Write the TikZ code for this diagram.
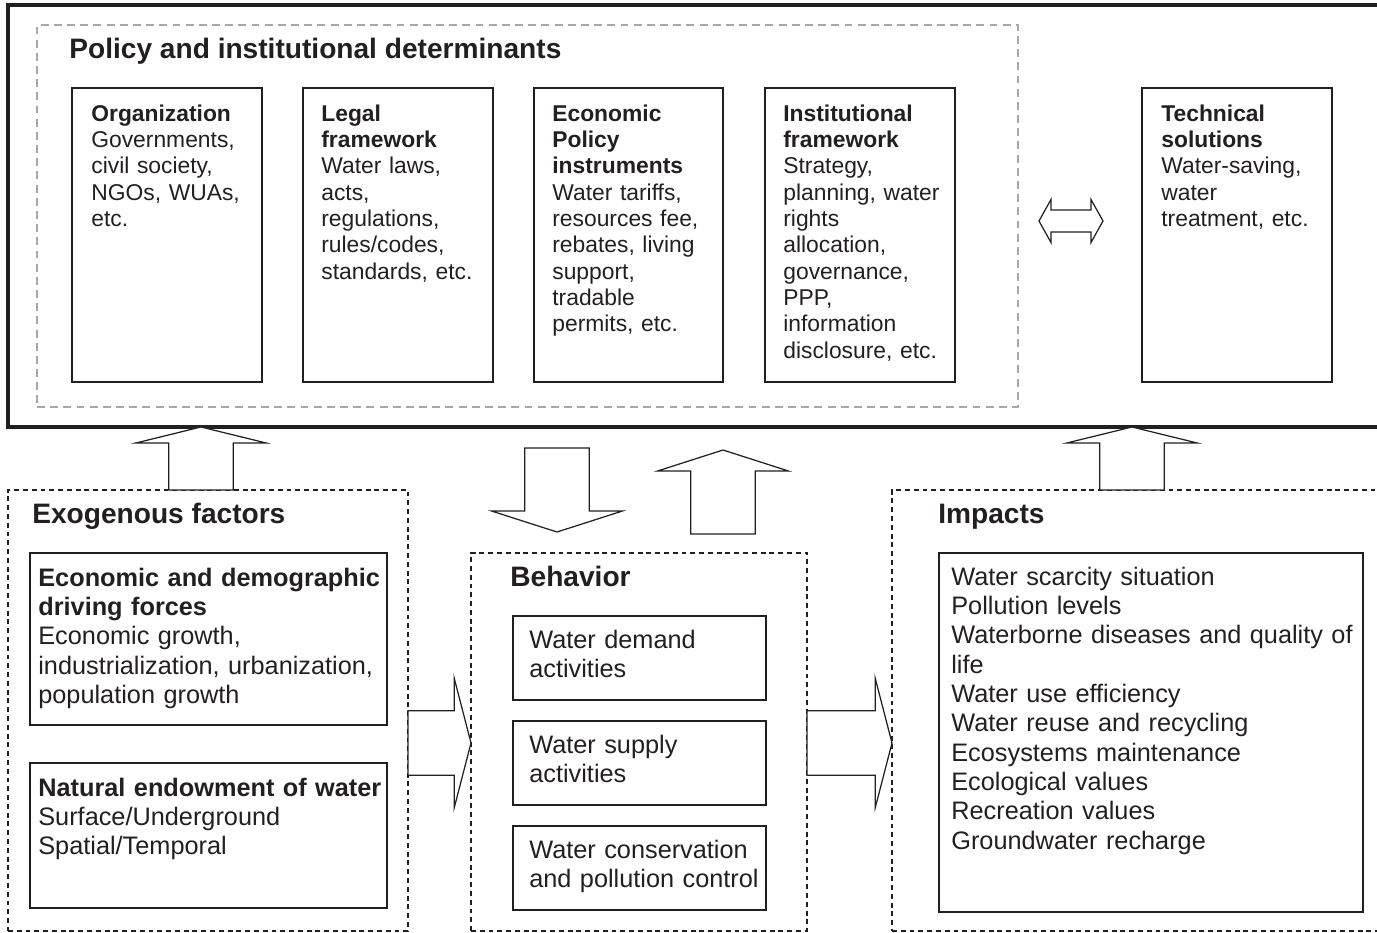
\documentclass[tikz,border=0pt]{standalone}
\usepackage{fontspec}
\setmainfont{Liberation Sans}
\usetikzlibrary{calc,fit}
\definecolor{ink}{HTML}{231F20}
\definecolor{dashgray}{HTML}{A8A8A8}
\tikzset{
  outer/.style={draw=ink, line width=1.8pt, inner sep=0pt, outer sep=0pt},
  polgroup/.style={draw=dashgray, line width=1.5pt, dash pattern=on 4.5pt off 3pt, inner sep=0pt, outer sep=0pt},
  group/.style={draw=ink, line width=0.6pt, dash pattern=on 2.8pt off 2.2pt, inner sep=0pt, outer sep=0pt},
  box/.style={draw=ink, line width=0.8pt, inner sep=0pt, outer sep=0pt},
  fat/.style={draw=ink, fill=white, line width=0.7pt, line join=miter},
  head/.style={font=\fontsize{16}{19}\selectfont\bfseries, text=ink, inner sep=0pt, anchor=base west},
  small/.style={font=\fontsize{13}{15}\selectfont, text=ink, inner sep=0pt, anchor=base west, text width=7cm, align=left},
  large/.style={font=\fontsize{14.4}{16.7}\selectfont, text=ink, inner sep=0pt, anchor=base west, text width=9cm, align=left}
}
\newcommand{\blockshaft}{18.4pt}
\newcommand{\blockwing}{37.1pt}
% vertical block arrow: start, tip, head length
\newcommand{\vblock}[3]{%
  \draw[fat] let \p1=#1, \p2=#2, \n1={sign(\y2-\y1)*#3} in
    ({\x1-\blockshaft},\y1) -- ({\x1-\blockshaft},{\y2-\n1}) -- ({\x1-\blockwing},{\y2-\n1})
    -- (\x1,\y2) -- ({\x1+\blockwing},{\y2-\n1}) -- ({\x1+\blockshaft},{\y2-\n1})
    -- ({\x1+\blockshaft},\y1) -- cycle;}
% horizontal block arrow: start, tip, head length
\newcommand{\hblock}[3]{%
  \draw[fat] let \p1=#1, \p2=#2, \n1={sign(\x2-\x1)*#3} in
    (\x1,{\y1-\blockshaft}) -- ({\x2-\n1},{\y1-\blockshaft}) -- ({\x2-\n1},{\y1-\blockwing})
    -- (\x2,\y1) -- ({\x2-\n1},{\y1+\blockwing}) -- ({\x2-\n1},{\y1+\blockshaft})
    -- (\x1,{\y1+\blockshaft}) -- cycle;}
% double block arrow: left tip, right tip
\newcommand{\dblock}[2]{%
  \draw[fat] let \p1=#1, \p2=#2 in
    (\x1,\y1) -- ({\x1+6.8pt},{\y1+12.2pt}) -- ({\x1+6.8pt},{\y1+6.2pt}) -- ({\x2-6.8pt},{\y1+6.2pt})
    -- ({\x2-6.8pt},{\y1+12.2pt}) -- (\x2,\y1) -- ({\x2-6.8pt},{\y1-12.2pt}) -- ({\x2-6.8pt},{\y1-6.2pt})
    -- ({\x1+6.8pt},{\y1-6.2pt}) -- ({\x1+6.8pt},{\y1-12.2pt}) -- cycle;}

\begin{document}
\begin{tikzpicture}[x=0.02cm, y=-0.02cm]
\useasboundingbox (0,0) rectangle (1377,933);
\clip (0,0) rectangle (1377,933);

%policy frame
\node[outer, fit={(8,5) (1392,427)}] (outer) {};
\node[polgroup, fit={(37,25) (1018,407)}] (pol) {};
\node[head] (pol-t) at ($(pol.north west)+(32,33)$) {Policy and institutional determinants};

\node[box, fit={(72,88) (262,382)}] (org) {};
\node[box, fit={(303,88) (493,382)}] (legal) {};
\node[box, fit={(534,88) (723,382)}] (econ) {};
\node[box, fit={(765,88) (955,382)}] (inst) {};
\node[box, fit={(1142,88) (1332,382)}] (tech) {};

\node[small] (org-t) at ($(org.north west)+(19,33)$)
  {\textbf{Organization}\\Governments,\\civil society,\\NGOs, WUAs,\\etc.};
\node[small] (legal-t) at ($(legal.north west)+(18,33)$)
  {\textbf{Legal}\\\textbf{framework}\\Water laws,\\acts,\\regulations,\\rules/codes,\\standards, etc.};
\node[small] (econ-t) at ($(econ.north west)+(18,33)$)
  {\textbf{Economic}\\\textbf{Policy}\\\textbf{instruments}\\Water tariffs,\\resources fee,\\rebates, living\\support,\\tradable\\permits, etc.};
\node[small] (inst-t) at ($(inst.north west)+(18,33)$)
  {\textbf{Institutional}\\\textbf{framework}\\Strategy,\\planning, water\\rights\\allocation,\\governance,\\PPP,\\information\\disclosure, etc.};
\node[small] (tech-t) at ($(tech.north west)+(19,33)$)
  {\textbf{Technical}\\\textbf{solutions}\\Water-saving,\\water\\treatment, etc.};

%exogenous factors
\node[group, fit={(8,490) (408,931)}] (exo) {};
\node[head] (exo-t) at ($(exo.north west)+(24,33)$) {Exogenous factors};
\node[box, fit={(30,553) (387,725)}] (drive) {};
\node[box, fit={(30,763) (387,908)}] (nat) {};
\node[large] (drive-t) at ($(drive.north west)+(8,33)$)
  {\textbf{Economic and demographic}\\\textbf{driving forces}\\Economic growth,\\industrialization, urbanization,\\population growth};
\node[large] (nat-t) at ($(nat.north west)+(8,33)$)
  {\textbf{Natural endowment of water}\\Surface/Underground\\Spatial/Temporal};

%behavior
\node[group, fit={(471,553) (807,931)}] (beh) {};
\node[head] (beh-t) at ($(beh.north west)+(39,33)$) {Behavior};
\node[box, fit={(513,616) (766,700)}] (dem) {};
\node[box, fit={(513,721) (766,805)}] (sup) {};
\node[box, fit={(513,826) (766,910)}] (cons) {};
\node[large] (dem-t) at ($(dem.north west)+(16,32)$) {Water demand\\activities};
\node[large] (sup-t) at ($(sup.north west)+(16,32)$) {Water supply\\activities};
\node[large] (cons-t) at ($(cons.north west)+(16,32)$) {Water conservation\\and pollution control};

%impacts
\node[group, fit={(892,490) (1392,931)}] (imp) {};
\node[head] (imp-t) at ($(imp.north west)+(46,33)$) {Impacts};
\node[box, fit={(939,553) (1363,912)}] (implist) {};
\node[large] (implist-t) at ($(implist.north west)+(12,32)$)
  {Water scarcity situation\\Pollution levels\\Waterborne diseases and quality of\\life\\Water use efficiency\\Water reuse and recycling\\Ecosystems maintenance\\Ecological values\\Recreation values\\Groundwater recharge};

%block arrows
\vblock{($(exo.north)+(-7,0)$)}{(outer.south)}{9.1pt}
\vblock{($(outer.south -| beh.north)+(-82,21)$)}{($(beh.north)+(-82,-21)$)}{11.9pt}
\vblock{($(beh.north)+(84,-19)$)}{($(outer.south -| beh.north)+(84,23)$)}{11.9pt}
\vblock{($(imp.north)+(-10,0)$)}{(outer.south)}{9.1pt}
\hblock{($(exo.east)+(0,32.5)$)}{(beh.west)}{9.6pt}
\hblock{($(beh.east)+(0,1)$)}{(imp.west)}{9.6pt}
\dblock{($(inst.east)+(84,-14)$)}{($(tech.west)+(-39,-14)$)}
\end{tikzpicture}
\end{document}
